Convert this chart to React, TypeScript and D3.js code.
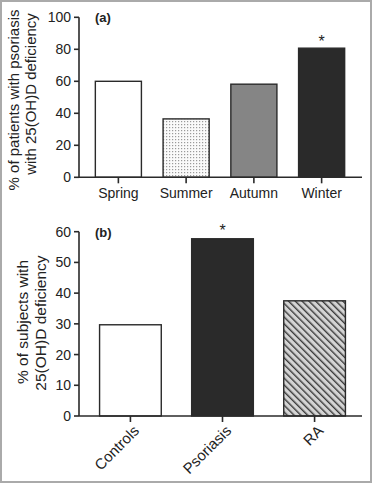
import React from "react";
import * as d3 from "d3";

const seasons = ["Spring", "Summer", "Autumn", "Winter"];
const seasonValues = [60, 36.5, 58.2, 80.7];
const seasonTicks = [0, 20, 40, 60, 80, 100];

const groups = ["Controls", "Psoriasis", "RA"];
const groupValues = [29.7, 57.7, 37.5];
const groupTicks = [0, 10, 20, 30, 40, 50, 60];

const seasonFills = ["#ffffff", "url(#dots)", "#858585", "#2a2a2a"];
const groupFills = ["#ffffff", "#2a2a2a", "url(#hatch)"];

const FONT = "'Liberation Sans', Arial, sans-serif";
const AX = "#2a2a2a";

export default function App() {
  const W = 372, H = 483;
  const axisX = 79;
  const axisRight = 362;

  // panel a
  const ya = d3.scaleLinear().domain([0, 100]).range([177.3, 17.3]);
  const xa = d3.scaleBand().domain(seasons).range([84.5, 355.5]).paddingInner(0.32).paddingOuter(0.16);
  // panel b
  const yb = d3.scaleLinear().domain([0, 60]).range([416, 231.7]);
  const xb = d3.scaleBand().domain(groups).range([83, 362]).paddingInner(0.33).paddingOuter(0.18);

  return (
    <svg width={W} height={H} style={{ position: "absolute", left: 0, top: 0, fontFamily: FONT }}>
      <defs>
        <pattern id="dots" width="3" height="3" patternUnits="userSpaceOnUse">
          <rect width="3" height="3" fill="#fafafa" />
          <rect x="1" y="1" width="1.2" height="1.2" fill="#9a9a9a" />
        </pattern>
        <pattern id="hatch" width="4.8" height="4.8" patternUnits="userSpaceOnUse" patternTransform="rotate(-45)">
          <rect width="4.8" height="4.8" fill="#d4d4d4" />
          <rect x="0" y="0" width="1.4" height="4.8" fill="#3a3a3a" />
        </pattern>
      </defs>
      <rect x="0" y="0" width={W} height={H} fill="#ffffff" />
      <rect x="1" y="1" width={W - 2} height={H - 2} fill="none" stroke="#aaaaaa" strokeWidth="2" />

      {/* Panel a */}
      <g>
        {seasons.map((s, i) => (
          <rect key={s} x={xa(s)} y={ya(seasonValues[i])} width={xa.bandwidth()} height={ya(0) - ya(seasonValues[i])}
            fill={seasonFills[i]} stroke={AX} strokeWidth="1.4" />
        ))}
        <line x1={axisX} x2={axisX} y1={ya(100)} y2={ya(0)} stroke={AX} strokeWidth="1.6" />
        <line x1={axisX} x2={axisRight} y1={ya(0)} y2={ya(0)} stroke={AX} strokeWidth="1.6" />
        {seasonTicks.map(t => (
          <g key={t}>
            <line x1={axisX - 5} x2={axisX} y1={ya(t)} y2={ya(t)} stroke={AX} strokeWidth="1.6" />
            <text x={axisX - 8} y={ya(t)} dy="0.36em" textAnchor="end" fontSize="14" fill="#222">{t}</text>
          </g>
        ))}
        {seasons.map(s => {
          const cx = (xa(s) as number) + xa.bandwidth() / 2;
          return (
            <g key={s}>
              <line x1={cx} x2={cx} y1={ya(0)} y2={ya(0) + 6} stroke={AX} strokeWidth="1.6" />
              <text x={cx} y={198} textAnchor="middle" fontSize="14" fill="#222">{s}</text>
            </g>
          );
        })}
        <text x={(xa("Winter") as number) + xa.bandwidth() / 2} y={ya(seasonValues[3]) - 1} textAnchor="middle" fontSize="16" fill="#222">*</text>
        <text x={95} y={22} fontSize="13" fontWeight="bold" fill="#222">(a)</text>
        <g transform="translate(14,100) rotate(-90)">
          <text x={0} y={0} dy="0.3em" textAnchor="middle" fontSize="15" fill="#222">% of patients with psoriasis</text>
        </g>
        <g transform="translate(31,94) rotate(-90)">
          <text x={0} y={0} dy="0.3em" textAnchor="middle" fontSize="15" fill="#222">with 25(OH)D deficiency</text>
        </g>
      </g>

      {/* Panel b */}
      <g>
        {groups.map((g, i) => (
          <rect key={g} x={xb(g)} y={yb(groupValues[i])} width={xb.bandwidth()} height={yb(0) - yb(groupValues[i])}
            fill={groupFills[i]} stroke={AX} strokeWidth="1.4" />
        ))}
        <line x1={axisX} x2={axisX} y1={yb(60)} y2={yb(0)} stroke={AX} strokeWidth="1.6" />
        <line x1={axisX} x2={axisRight} y1={yb(0)} y2={yb(0)} stroke={AX} strokeWidth="1.6" />
        {groupTicks.map(t => (
          <g key={t}>
            <line x1={axisX - 5} x2={axisX} y1={yb(t)} y2={yb(t)} stroke={AX} strokeWidth="1.6" />
            <text x={axisX - 8} y={yb(t)} dy="0.36em" textAnchor="end" fontSize="14" fill="#222">{t}</text>
          </g>
        ))}
        {groups.map(g => {
          const cx = (xb(g) as number) + xb.bandwidth() / 2;
          return (
            <g key={g}>
              <line x1={cx} x2={cx} y1={yb(0)} y2={yb(0) + 6} stroke={AX} strokeWidth="1.6" />
              <g transform={`translate(${cx + 6},${yb(0) + 12}) rotate(-45)`}>
                <text x={0} y={0} dy="0.35em" textAnchor="end" fontSize="15" fill="#222">{g}</text>
              </g>
            </g>
          );
        })}
        <text x={(xb("Psoriasis") as number) + xb.bandwidth() / 2} y={yb(groupValues[1]) - 3} textAnchor="middle" fontSize="16" fill="#222">*</text>
        <text x={95} y={237} fontSize="13" fontWeight="bold" fill="#222">(b)</text>
        <g transform="translate(23,322) rotate(-90)">
          <text x={0} y={0} dy="0.3em" textAnchor="middle" fontSize="15.5" fill="#222">% of subjects with</text>
        </g>
        <g transform="translate(41,323) rotate(-90)">
          <text x={0} y={0} dy="0.3em" textAnchor="middle" fontSize="15.5" fill="#222">25(OH)D deficiency</text>
        </g>
      </g>
    </svg>
  );
}
